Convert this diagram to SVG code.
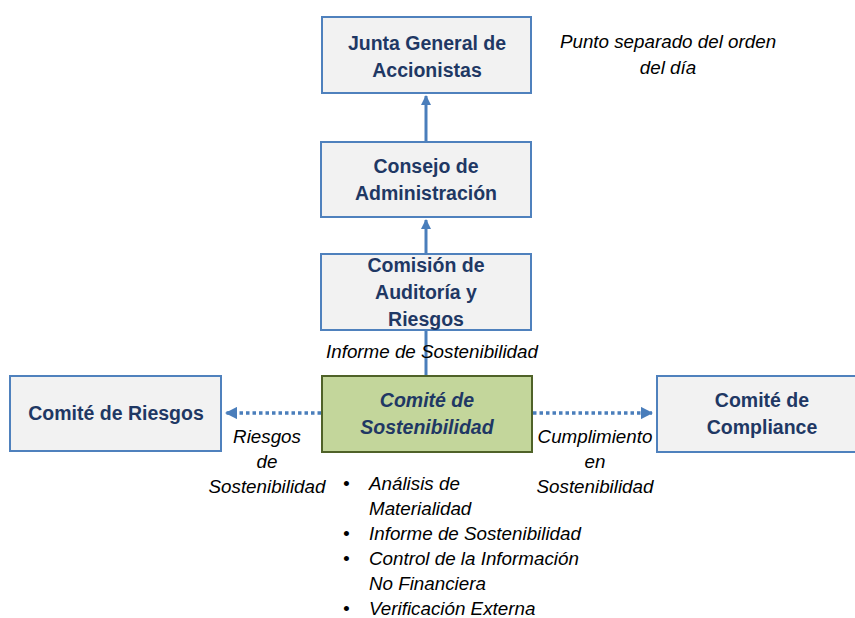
<svg xmlns="http://www.w3.org/2000/svg" width="855" height="618" viewBox="0 0 855 618">
<defs>
<style>
.box{fill:#f2f2f2;stroke:#4f81bd;stroke-width:2}
.green{fill:#c3d69b;stroke:#4f6228;stroke-width:2}
.bt{font-family:"Liberation Sans",Arial,sans-serif;font-weight:bold;font-size:19.5px;fill:#1f3864;text-anchor:middle}
.bi{font-style:italic}
.lbl{font-family:"Liberation Sans",Arial,sans-serif;font-style:italic;font-size:18.8px;fill:#000;text-anchor:middle}
.li{font-family:"Liberation Sans",Arial,sans-serif;font-style:italic;font-size:18.8px;fill:#000}
.solid{stroke:#4a7ebb;stroke-width:3;fill:none}
.dot{stroke:#4a7ebb;stroke-width:3.5;fill:none;stroke-dasharray:3.5 3}
</style>
<marker id="ah" viewBox="0 0 10 10" refX="9" refY="5" markerWidth="3.5" markerHeight="3.5" orient="auto" markerUnits="strokeWidth">
<path d="M0,0 L10,5 L0,10 z" fill="#4a7ebb"/>
</marker>
</defs>
<g id="connectors">
<line class="solid" x1="426" y1="142" x2="426" y2="96" marker-end="url(#ah)"/>
<line class="solid" x1="426" y1="254" x2="426" y2="220" marker-end="url(#ah)"/>
<line class="solid" x1="426" y1="376" x2="426" y2="330"/>
<line class="dot" x1="321" y1="413" x2="226" y2="413" marker-end="url(#ah)"/>
<line class="dot" x1="533" y1="413" x2="652" y2="413" marker-end="url(#ah)"/>
</g>
<g id="junta">
<rect class="box" x="322" y="17" width="209" height="76"/>
<text class="bt" x="427" y="50">Junta General de</text>
<text class="bt" x="427" y="77">Accionistas</text>
</g>
<g id="consejo">
<rect class="box" x="321" y="142" width="210" height="75"/>
<text class="bt" x="426" y="173">Consejo de</text>
<text class="bt" x="426" y="200">Administración</text>
</g>
<g id="comision">
<rect class="box" x="321" y="254" width="210" height="76"/>
<text class="bt" x="426" y="272">Comisión de</text>
<text class="bt" x="426" y="299">Auditoría y</text>
<text class="bt" x="426" y="326">Riesgos</text>
</g>
<g id="informe-label">
<text class="lbl" x="432" y="358">Informe de Sostenibilidad</text>
</g>
<g id="sostenibilidad">
<rect class="green" x="322" y="376" width="210" height="76"/>
<text class="bt bi" x="427" y="407">Comité de</text>
<text class="bt bi" x="427" y="434">Sostenibilidad</text>
</g>
<g id="riesgos">
<rect class="box" x="10" y="376" width="211" height="75"/>
<text class="bt" x="116" y="420">Comité de Riesgos</text>
</g>
<g id="compliance">
<rect class="box" x="657" y="376" width="210" height="76"/>
<text class="bt" x="762" y="407">Comité de</text>
<text class="bt" x="762" y="434">Compliance</text>
</g>
<g id="riesgos-label">
<text class="lbl" x="267" y="443">Riesgos</text>
<text class="lbl" x="267" y="468">de</text>
<text class="lbl" x="267" y="493">Sostenibilidad</text>
</g>
<g id="cumplimiento-label">
<text class="lbl" x="595" y="443">Cumplimiento</text>
<text class="lbl" x="595" y="468">en</text>
<text class="lbl" x="595" y="493">Sostenibilidad</text>
</g>
<g id="punto-label">
<text class="lbl" x="668" y="48">Punto separado del orden</text>
<text class="lbl" x="668" y="74">del día</text>
</g>
<g id="bullets">
<text class="li" x="343" y="490">•</text>
<text class="li" x="369" y="490">Análisis de</text>
<text class="li" x="369" y="515">Materialidad</text>
<text class="li" x="343" y="540">•</text>
<text class="li" x="369" y="540">Informe de Sostenibilidad</text>
<text class="li" x="343" y="565">•</text>
<text class="li" x="369" y="565">Control de la Información</text>
<text class="li" x="369" y="590">No Financiera</text>
<text class="li" x="343" y="615">•</text>
<text class="li" x="369" y="615">Verificación Externa</text>
</g>
</svg>
